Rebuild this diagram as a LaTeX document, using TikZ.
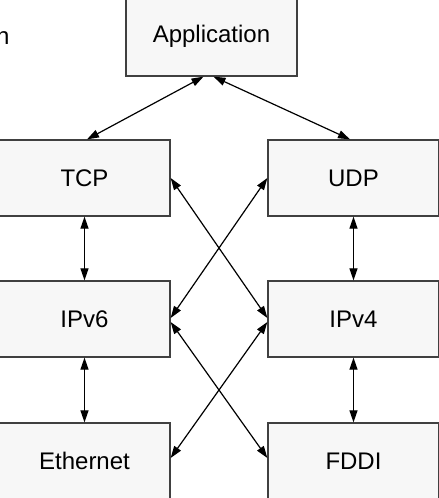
\documentclass[tikz,border=0pt]{standalone}
\usepackage{fontspec}
\setmainfont{Liberation Sans}
\usetikzlibrary{arrows.meta}
\begin{document}
\begin{tikzpicture}[x=1pt,y=-1pt,
  layerbox/.style={draw=black!75,line width=1.3pt,fill=black!3,minimum width=171pt,minimum height=76pt,inner sep=0pt,font=\fontsize{24}{28}\selectfont},
  link/.style={line width=1.2pt,{Triangle[length=12pt,width=8pt]}-{Triangle[length=12pt,width=8pt]}}]
\useasboundingbox (0,0) rectangle (439,498);
\clip (0,0) rectangle (439,498);
\fill[white] (0,0) rectangle (439,498);
\node[anchor=base west,inner sep=0pt,font=\fontsize{24}{28}\selectfont] (frag) at (-4,44) {n};
\node[layerbox,minimum height=80pt] (app) at (211.5,36) {Application};
\node[layerbox] (tcp) at (84.5,178) {TCP};
\node[layerbox] (udp) at (353.5,178) {UDP};
\node[layerbox] (ip6) at (84.5,319) {IPv6};
\node[layerbox] (ip4) at (353.5,319) {IPv4};
\node[layerbox] (eth) at (84.5,461) {Ethernet};
\node[layerbox] (fddi) at (353.5,461) {FDDI};
\draw[link] ([xshift=-8pt]app.south) -- ([xshift=2.5pt]tcp.north);
\draw[link] ([xshift=2pt]app.south) -- ([xshift=-3.5pt]udp.north);
\draw[link] (tcp.south) -- (ip6.north);
\draw[link] (udp.south) -- (ip4.north);
\draw[link] (ip6.south) -- (eth.north);
\draw[link] (ip4.south) -- (fddi.north);
\draw[link] (tcp.east) -- ([yshift=1pt]ip4.west);
\draw[link] (udp.west) -- ([yshift=1pt]ip6.east);
\draw[link] ([yshift=-3pt]ip6.east) -- ([yshift=3pt]fddi.west);
\draw[link] ([yshift=-3pt]ip4.west) -- ([yshift=3pt]eth.east);
\end{tikzpicture}
\end{document}
